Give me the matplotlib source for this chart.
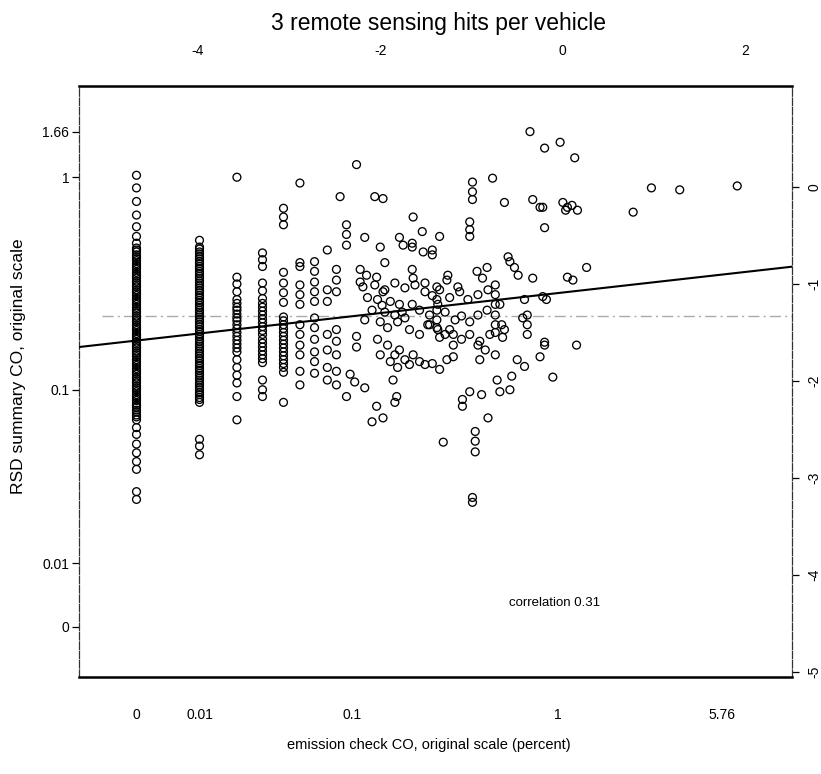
import numpy as np
import matplotlib
matplotlib.use("Agg")
import matplotlib.pyplot as plt
from matplotlib import font_manager

# emission check CO (log scale, top axis units) of the discrete columns
col_x = [-4.67, -3.98, -3.57, -3.29, -3.06, -2.88, -2.72, -2.58, -2.48]

# RSD summary CO (log scale, right axis units) in each column
col0 = [0.12, -0.01, -0.15, -0.29, -0.41, -0.51, -0.58,
        -0.63, -0.65, -0.67, -0.70, -0.72, -0.74, -0.76, -0.79, -0.81, -0.83,
        -0.85, -0.88, -0.90, -0.92, -0.94, -0.97, -0.99, -1.01, -1.03, -1.06,
        -1.08, -1.10, -1.12, -1.15, -1.17, -1.19, -1.21, -1.24, -1.26, -1.28,
        -1.30, -1.33, -1.35, -1.37, -1.39, -1.42, -1.44, -1.46, -1.48, -1.51,
        -1.53, -1.55, -1.57, -1.60, -1.62, -1.64, -1.66, -1.69, -1.71, -1.73,
        -1.75, -1.78, -1.80, -1.82, -1.84, -1.87, -1.89, -1.91, -1.93, -1.96,
        -1.98, -2.00, -2.02, -2.05, -2.07, -2.09, -2.11, -2.14, -2.16, -2.18,
        -2.20, -2.23, -2.25, -2.27, -2.30, -2.32, -2.35, -2.37, -2.40,
        -2.48, -2.55, -2.65, -2.74, -2.83, -2.91, -3.14, -3.22]
col1 = [-0.55, -0.62, -0.64, -0.67, -0.69, -0.72, -0.74, -0.77, -0.79, -0.82,
        -0.84, -0.87, -0.89, -0.92, -0.94, -0.97, -0.99, -1.02, -1.04, -1.07,
        -1.09, -1.12, -1.14, -1.17, -1.19, -1.22, -1.24, -1.27, -1.29, -1.32,
        -1.34, -1.37, -1.39, -1.42, -1.44, -1.47, -1.49, -1.52, -1.54, -1.57,
        -1.59, -1.62, -1.64, -1.67, -1.69, -1.72, -1.74, -1.77, -1.79, -1.82,
        -1.84, -1.87, -1.89, -1.92, -1.94, -1.97, -1.99, -2.02, -2.04, -2.07,
        -2.09, -2.12, -2.14, -2.17, -2.19, -2.22, -2.60, -2.67, -2.76]
col2 = [0.10, -0.93, -1.00, -1.08, -1.16, -1.20, -1.24, -1.27, -1.31, -1.35,
        -1.38, -1.42, -1.46, -1.50, -1.54, -1.58, -1.62, -1.66, -1.70, -1.78,
        -1.86, -1.94, -2.02, -2.16, -2.40]
col3 = [-0.68, -0.75, -0.82, -0.99, -1.07, -1.15, -1.20, -1.24, -1.28, -1.32,
        -1.36, -1.40, -1.44, -1.48, -1.52, -1.57, -1.61, -1.65, -1.69, -1.73,
        -1.77, -1.81, -1.99, -2.09, -2.16]
col4 = [-0.22, -0.31, -0.39, -0.88, -0.99, -1.09, -1.19, -1.34, -1.38, -1.42,
        -1.46, -1.50, -1.54, -1.58, -1.62, -1.66, -1.70, -1.74, -1.78, -1.82,
        -1.86, -1.91, -2.22]
col5 = [0.04, -0.78, -0.82, -1.01, -1.11, -1.21, -1.42, -1.52, -1.63, -1.73,
        -1.90, -2.04]
col6 = [-0.77, -0.87, -0.98, -1.08, -1.18, -1.35, -1.45, -1.57, -1.70, -1.80,
        -1.92]
col7 = [-0.65, -1.06, -1.18, -1.52, -1.68, -1.86, -1.99]
col8 = [-0.85, -0.96, -1.08, -1.47, -1.59, -1.73, -1.90, -2.04]
col_y = [col0, col1, col2, col3, col4, col5, col6, col7, col8]

# the rest of the cloud (log emission check CO, log RSD CO)
cloud_x = [-2.26, -2.44, -2.06, -1.97, -1.64, -2.37, -2.37, -2.37, -2.17, -1.79,
           -1.65, -1.54, -1.35, -2.00, -1.43, -1.75, -1.53, -1.43, -1.95, -1.64,
           -1.51, -1.38, -1.27, -2.15, -2.04, -2.19, -1.97, -2.14, -2.03, -1.89,
           -1.79, -2.09, -1.95, -1.84, -2.17, -2.00, -1.73, -2.26, -2.26, -2.03,
           -1.92, -2.00, -1.89, -1.79, -1.64, -1.57, -1.86, -1.82, -2.28, -2.17,
           -2.37, -2.04, -2.09, -1.97, -1.84, -1.31, -1.51, -1.35, -1.27, -1.46,
           -1.37, -1.29, -0.36, -0.20, -0.77, -0.99, -0.99, -0.99, -0.64, -0.33,
           -0.25, -0.20, -1.02, -1.02, -1.02, -1.65, -0.58, -0.53, -0.33, -0.94,
           -0.83, -0.88, -1.65, -1.26, -1.15, -2.06, -1.95, -1.84, -1.73, -1.62,
           -1.51, -1.43, -1.35, -1.24, -1.13, -1.04, -0.93, -0.82, -0.69, -1.98,
           -1.76, -1.65, -1.57, -1.46, -1.37, -1.29, -1.18, -1.11, -1.02, -0.93,
           -0.83, -0.67, -1.92, -1.81, -1.68, -1.57, -1.48, -1.35, -1.24, -1.11,
           -1.02, -0.91, -0.80, -0.64, -1.38, -1.38, -1.38, -1.38, -0.74, -0.74,
           -0.74, -0.74, -0.74, -0.74, -1.84, -1.73, -1.68, -1.81, -1.43, -1.20,
           -1.20, -1.20, -0.93, -0.85, -0.91, -0.74, -0.66, -0.50, -0.42, -0.56,
           -0.25, -0.72, -0.69, -0.58, -1.02, -0.89, -1.10, -1.10, -0.82, -0.96,
           -0.96, -0.96, -0.99, -0.99, -0.22, -0.39, -0.39, -0.39, -0.20, -0.03,
           0.13, -0.22, 0.00, 0.05, 0.10, 0.16, 0.03, 0.97, 1.28, 1.91,
           0.77, 0.11, 0.26, 0.05, -0.18, -0.20, 0.15, -0.11, -0.60, -0.49,
           -0.42, -0.44, -2.22, -2.22, -2.33]
cloud_y = [0.23, -0.10, -0.10, -0.12, -0.31, -0.39, -0.49, -0.60, -0.52, -0.52,
           -0.58, -0.46, -0.51, -0.62, -0.65, -0.60, -0.67, -0.70, -0.78, -0.94,
           -0.99, -1.03, -0.96, -0.91, -0.93, -1.03, -1.08, -1.14, -1.16, -1.18,
           -1.21, -1.27, -1.29, -1.32, -1.37, -1.39, -1.35, -1.54, -1.65, -1.57,
           -1.63, -1.73, -1.80, -1.68, -1.73, -1.80, -1.99, -2.16, -2.01, -2.07,
           -2.16, -2.26, -2.42, -2.38, -2.22, -2.63, -1.83, -1.88, -1.78, -1.42,
           -1.47, -1.52, 0.57, 0.40, 0.09, 0.05, -0.05, -0.13, -0.16, -0.13,
           -0.21, -0.42, -0.36, -0.44, -0.51, -0.62, -0.77, -0.83, -0.94, -0.87,
           -0.83, -0.94, -0.85, -0.91, -1.03, -1.01, -1.06, -0.99, -1.04, -1.01,
           -1.08, -1.12, -1.06, -1.14, -1.08, -1.16, -1.11, -1.06, -1.21, -1.22,
           -1.29, -1.21, -1.27, -1.32, -1.21, -1.29, -1.37, -1.33, -1.39, -1.32,
           -1.27, -1.42, -1.45, -1.39, -1.47, -1.52, -1.42, -1.55, -1.47, -1.57,
           -1.52, -1.59, -1.52, -1.47, -1.16, -1.27, -1.37, -1.45, -1.01, -1.11,
           -1.21, -1.32, -1.42, -1.50, -1.73, -1.78, -1.83, -1.86, -1.82, -1.52,
           -1.63, -1.75, -1.63, -1.68, -1.78, -1.73, -1.55, -1.78, -1.85, -1.95,
           -1.75, -1.99, -2.11, -2.09, -2.11, -2.14, -2.19, -2.26, -2.38, -2.52,
           -2.62, -2.73, -3.20, -3.25, -1.13, -1.32, -1.42, -1.52, -1.60, 0.46,
           0.30, -0.21, -0.16, -0.21, -0.19, -0.24, -0.24, -0.01, -0.03, 0.01,
           -0.26, -0.96, -0.83, -0.93, -1.16, -1.63, -1.63, -1.96, -0.72, -0.91,
           -1.16, -1.35, -0.85, -0.98, -1.93]

# fitted line and mean of RSD CO (log units)
fit_intercept = -1.088
fit_slope = 0.106
rsd_mean = -1.33
correlation = 0.31

# tick labels
bottom_labels = ["0", "0.01", "0.1", "1", "5.76"]
bottom_pos = [-4.67, -3.98, -2.31, -0.06, 1.74]
left_labels = ["1.66", "1", "0.1", "0.01", "0"]
left_pos = [0.57, 0.10, -2.09, -3.88, -4.53]
top_ticks = [-4, -2, 0, 2]
right_ticks = [0, -1, -2, -3, -4, -5]

names = {f.name for f in font_manager.fontManager.ttflist}
fam = "Liberation Sans Narrow" if "Liberation Sans Narrow" in names else "Liberation Sans"
plt.rcParams["font.family"] = [fam, "DejaVu Sans"]

fig = plt.figure(figsize=(8.21, 7.74), dpi=100)
ax = fig.add_axes([0.0962, 0.1253, 0.8685, 0.7636])
ax.set_xlim(-5.30, 2.51)
ax.set_ylim(-5.05, 1.04)

xs = np.concatenate([np.full(len(c), x) for x, c in zip(col_x, col_y)] + [np.array(cloud_x)])
ys = np.concatenate([np.array(c) for c in col_y] + [np.array(cloud_y)])
ax.scatter(xs, ys, s=32, facecolors="none", edgecolors="black", linewidths=0.95, zorder=3)

lx = np.array(ax.get_xlim())
ax.plot(lx, fit_intercept + fit_slope * lx, color="black", lw=1.5, zorder=4)
ax.plot([-5.05, lx[1]], [rsd_mean, rsd_mean], color="#aaaaaa", lw=1.0,
        linestyle=(0, (8, 3, 1.5, 3)), zorder=2)

ax.text(-0.09, -4.29, "correlation %.2f" % correlation, ha="center", va="center", fontsize=9.5)

for s in ["top", "bottom"]:
    ax.spines[s].set_linewidth(1.8)
for s in ["left", "right"]:
    ax.spines[s].set_linewidth(0.9)
    ax.spines[s].set_linestyle((0, (6, 1.5)))
    ax.spines[s].set_color("#333333")

ax.set_xticks(bottom_pos, bottom_labels)
ax.tick_params(axis="x", length=0, pad=22, labelsize=10)
ax.set_yticks(left_pos, left_labels)
ax.tick_params(axis="y", direction="out", length=5, width=0.9, pad=2, labelsize=10)

top = ax.secondary_xaxis("top")
top.set_xticks(top_ticks, [str(t) for t in top_ticks])
top.tick_params(length=0, pad=20, labelsize=10)
top.spines["top"].set_visible(False)

right = ax.secondary_yaxis("right")
right.set_yticks(right_ticks, [str(t) for t in right_ticks])
right.tick_params(direction="out", length=5, width=0.9, pad=6, labelsize=10, labelrotation=90)
right.spines["right"].set_visible(False)
for lab in right.get_yticklabels():
    lab.set_va("center")

fig.text(0.534, 0.969, "3 remote sensing hits per vehicle", ha="center", va="center", fontsize=16.5)
fig.text(0.522, 0.037, "emission check CO, original scale (percent)", ha="center", va="center", fontsize=10.5)
fig.text(0.022, 0.527, "RSD summary CO, original scale", ha="center", va="center",
         rotation=90, fontsize=12.5)

fig.savefig("out.png", dpi=100)
